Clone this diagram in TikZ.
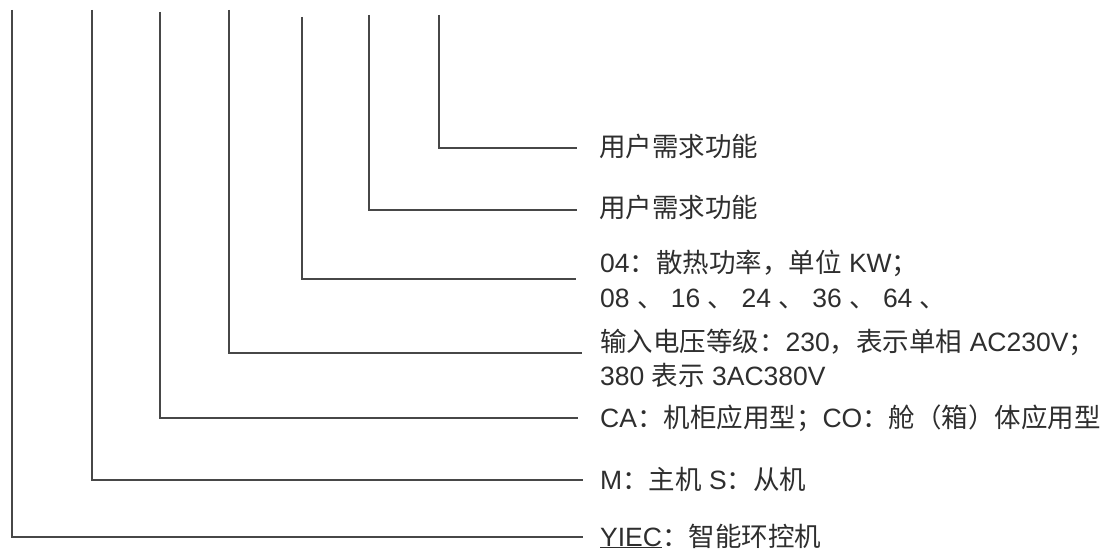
\documentclass[tikz,border=0pt]{standalone}
\usepackage{fontspec}
\setmainfont{Liberation Sans}
\newfontfamily\zh{Noto Sans CJK SC}
\newcommand\zhs[1]{{\zh #1}}
\begin{document}
\begin{tikzpicture}[x=1pt,y=-1pt,
  conn/.style={draw=black!72,line width=1.3pt},
  lbl/.style={anchor=base west,inner sep=0pt,text=black!82,font=\fontsize{26.5}{31}\selectfont}]
\useasboundingbox[fill=white] (0,0) rectangle (1106,553);
% tops of the vertical strokes
\coordinate (v1) at (12,10);
\coordinate (v2) at (92,10);
\coordinate (v3) at (160,12);
\coordinate (v4) at (229,10);
\coordinate (v5) at (302,17);
\coordinate (v6) at (369,15);
\coordinate (v7) at (439,15);
% ends of the horizontal strokes
\coordinate (e7) at (577,148);
\coordinate (e6) at (577,210);
\coordinate (e5) at (576,279);
\coordinate (e4) at (582,353);
\coordinate (e3) at (578,418);
\coordinate (e2) at (583,480);
\coordinate (e1) at (583,537);
% labels
\node[lbl] (t7) at (599,157) {\zhs{用户需求功能}};
\node[lbl] (t6) at (599,218) {\zhs{用户需求功能}};
\node[lbl] (t5a) at (600,273) {04\zhs{：散热功率，单位} KW\zhs{；}};
\node[lbl] (t5b) at (600,308) {08 \zhs{、} 16 \zhs{、} 24 \zhs{、} 36 \zhs{、} 64 \zhs{、}};
\node[lbl] (t4a) at (600,352) {\zhs{输入电压等级：}230\zhs{，表示单相} AC230V\zhs{；}};
\node[lbl] (t4b) at (600,385) {380 \zhs{表示} 3AC380V};
\node[lbl] (t3) at (600,427) {CA\zhs{：机柜应用型；}CO\zhs{：舱（箱）体应用型}};
\node[lbl] (t2) at (600,489) {M\zhs{：主机} S\zhs{：从机}};
\node[lbl] (t1) at (600,546) {\underline{YIEC}\zhs{：智能环控机}};
% connectors
\draw[conn] (v7) |- (e7);
\draw[conn] (v6) |- (e6);
\draw[conn] (v5) |- (e5);
\draw[conn] (v4) |- (e4);
\draw[conn] (v3) |- (e3);
\draw[conn] (v2) |- (e2);
\draw[conn] (v1) |- (e1);
\end{tikzpicture}
\end{document}
